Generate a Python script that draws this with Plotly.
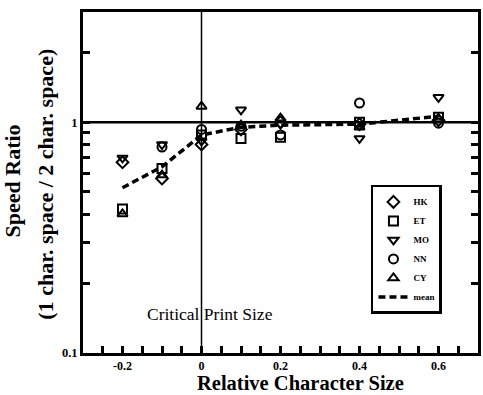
import plotly.graph_objects as go

x_vals = [-0.2, -0.1, 0.0, 0.1, 0.2, 0.4, 0.6]
hk = [0.67, 0.57, 0.80, 0.93, 1.00, 0.98, 1.02]
et = [0.42, 0.63, 0.88, 0.85, 0.86, 1.00, 1.05]
mo = [0.70, 0.80, 0.83, 1.13, 0.98, 0.85, 1.28]
nn = [None, 0.78, 0.93, 0.96, 0.88, 1.21, 0.99]
cy = [0.40, 0.59, 1.17, 0.97, 1.04, 0.95, 1.03]
mean = [0.52, 0.64, 0.88, 0.95, 0.97, 0.98, 1.06]

series = [("HK", hk, "diamond-open"), ("ET", et, "square-open"),
          ("MO", mo, "triangle-down-open"), ("NN", nn, "circle-open"),
          ("CY", cy, "triangle-up-open")]

x_ticks = [-0.25, -0.2, -0.15, -0.1, -0.05, 0.0, 0.05, 0.1, 0.15, 0.2, 0.25, 0.3,
           0.35, 0.4, 0.45, 0.5, 0.55, 0.6, 0.65]
x_labels = ["", "-0.2", "", "", "", "0", "", "", "", "0.2", "", "",
            "", "0.4", "", "", "", "0.6", ""]
y_ticks = [0.1, 0.2, 0.3, 0.4, 0.5, 0.6, 0.7, 0.8, 0.9, 1, 2, 3]
y_labels = ["0.1", "", "", "", "", "", "", "", "", "1", "", ""]

font_family = "Liberation Serif, Times New Roman, serif"

fig = go.Figure()
for name, vals, sym in series:
    fig.add_trace(go.Scatter(
        x=x_vals, y=vals, mode="markers", name=name,
        marker=dict(symbol=sym, size=9, color="black",
                    line=dict(color="black", width=2)),
    ))
fig.add_trace(go.Scatter(
    x=x_vals, y=mean, mode="lines", name="mean",
    line=dict(color="black", width=3.5, dash="7px,4px"),
))

# reference lines
fig.add_shape(type="line", xref="paper", yref="y", x0=0, x1=1, y0=1, y1=1,
              line=dict(color="black", width=2.5), layer="below")
fig.add_shape(type="line", xref="x", yref="paper", x0=0, x1=0, y0=0, y1=1,
              line=dict(color="black", width=1.5), layer="below")

fig.add_annotation(x=0.0225, y=-0.83, xref="x", yref="y", text="Critical Print Size",
                   showarrow=False, font=dict(family=font_family, size=17.5, color="black"))

# y title lines
fig.add_annotation(x=-0.178, y=0.505, xref="paper", yref="paper", text="<b>Speed Ratio</b>",
                   textangle=-90, showarrow=False, xanchor="center", yanchor="middle",
                   font=dict(family=font_family, size=22, color="black"))
fig.add_annotation(x=-0.095, y=0.495, xref="paper", yref="paper",
                   text="<b>(1 char. space / 2 char. space)</b>",
                   textangle=-90, showarrow=False, xanchor="center", yanchor="middle",
                   font=dict(family=font_family, size=22, color="black"))

# x title
fig.add_annotation(x=0.55, y=-0.0894, xref="paper", yref="paper",
                   text="<b>Relative Character Size</b>",
                   showarrow=False, xanchor="center", yanchor="middle",
                   font=dict(family=font_family, size=20.5, color="black"))

fig.update_layout(
    width=483, height=395,
    margin=dict(l=83, r=2, t=12, b=42),
    paper_bgcolor="white", plot_bgcolor="white",
    font=dict(family=font_family, color="black"),
    showlegend=True,
    legend=dict(x=0.729, y=0.493, xanchor="left", yanchor="top",
                bgcolor="white", bordercolor="black", borderwidth=2.5,
                font=dict(family=font_family, size=9, color="black", weight="bold"),
                tracegroupgap=0, itemwidth=30),
    xaxis=dict(range=[-0.3, 0.7], tickmode="array", tickvals=x_ticks, ticktext=x_labels,
               ticks="inside", ticklen=7, tickwidth=2.5, tickcolor="black",
               showline=True, linewidth=3, linecolor="black", mirror=True,
               showgrid=False, zeroline=False,
               tickfont=dict(family=font_family, size=12, color="black", weight="bold")),
    yaxis=dict(type="log", range=[-1, 0.477], tickmode="array", tickvals=y_ticks,
               ticktext=y_labels,
               ticks="inside", ticklen=7, tickwidth=2.5, tickcolor="black",
               showline=True, linewidth=3, linecolor="black", mirror="ticks",
               showgrid=False, zeroline=False,
               tickfont=dict(family=font_family, size=12.5, color="black", weight="bold")),
)

fig.write_html("out.html")
